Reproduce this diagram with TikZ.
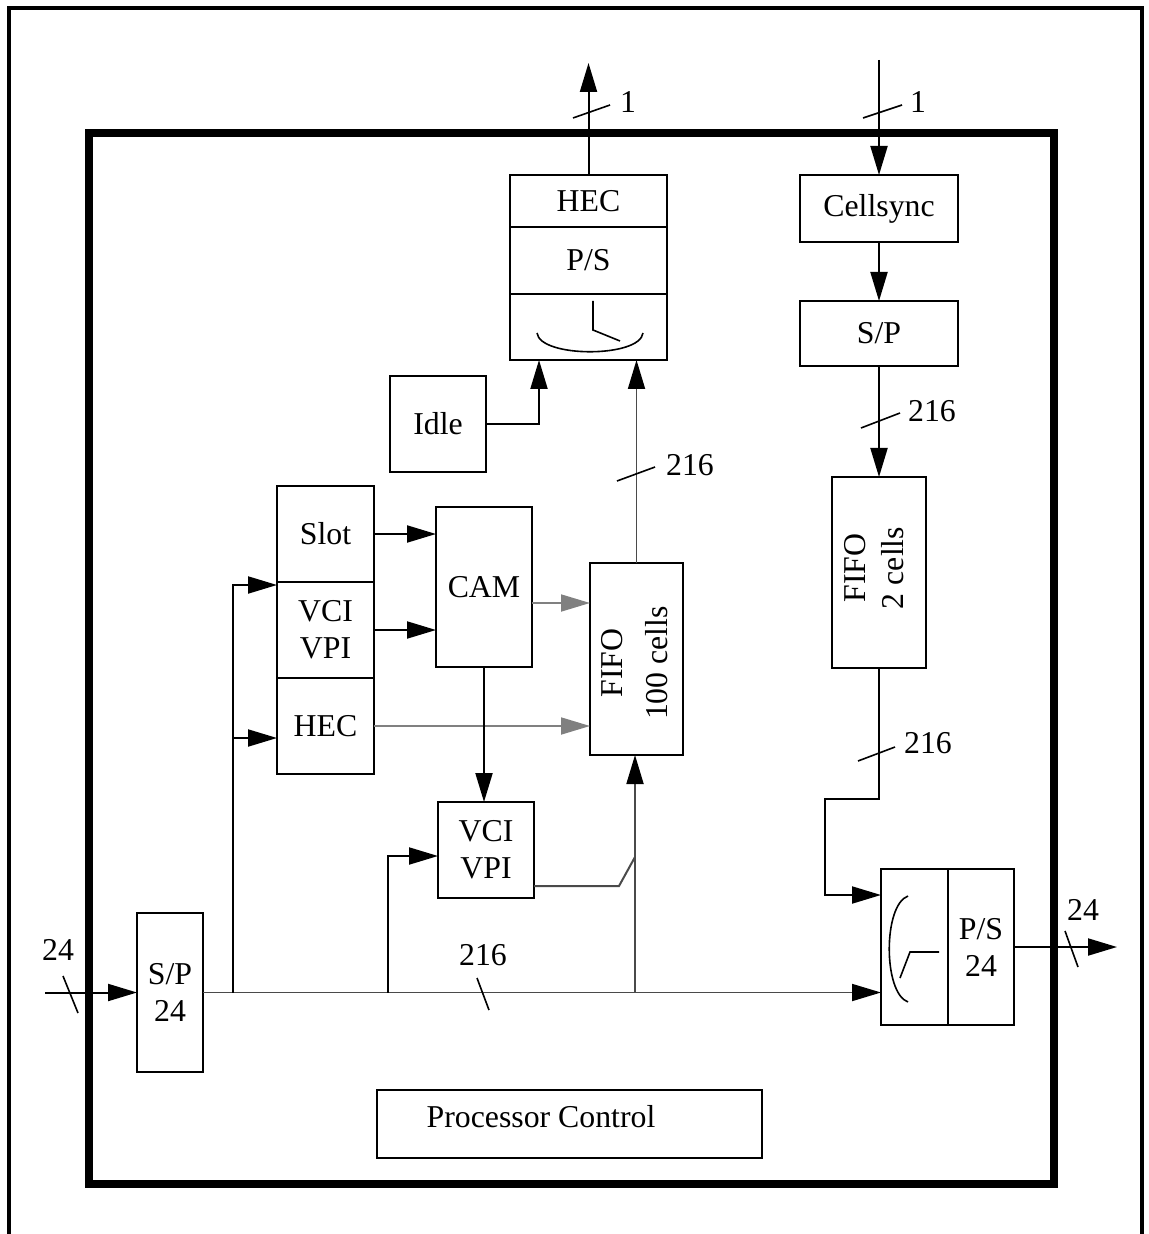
\documentclass[tikz,border=0pt]{standalone}
\usepackage{fontspec}
\setmainfont{Liberation Serif}
\usetikzlibrary{arrows.meta, calc}
\definecolor{wiregray}{HTML}{4A4A4A}
\definecolor{datagray}{HTML}{808080}
\tikzset{
  blk/.style={draw, line width=1.3pt, inner sep=2pt, outer sep=0pt, align=center,
              font=\fontsize{15.9}{18.5}\selectfont},
  sz/.style 2 args={minimum width=#1*0.5pt, minimum height=#2*0.5pt},
  txt/.style={inner sep=0pt, align=center, font=\fontsize{15.9}{18.5}\selectfont},
  flow/.style={-{Triangle[length=14.5pt, width=8.5pt]}, line width=1pt},
  dflow/.style={-{Triangle[length=14.5pt, width=8.5pt, color=black]}, line width=0.9pt, wiregray},
  gflow/.style={-{Triangle[length=14.5pt, width=8.5pt]}, line width=0.9pt, datagray},
  wire/.style={line width=1pt},
  tick/.style={line width=0.8pt},
  frame/.style={line width=1.7pt},
  chip/.style={line width=4.2pt},
}

\begin{document}
\begin{tikzpicture}[x=0.5pt, y=-0.5pt]
  \useasboundingbox (0,0) rectangle (1148,1234);
  \draw[frame] (9,1234) -- (9,8) -- (1142,8) -- (1142,1234);
  \draw[chip] (89,133) rectangle (1054,1184);

  % transmit stack
  \node[blk, sz={157}{52}] (hecT) at (588.5,201) {HEC};
  \node[blk, sz={157}{67}] (psT) at (588.5,260.5) {P/S};
  \node[blk, sz={157}{66}] (clkT) at (588.5,327) {};
  \draw[line width=0.8pt] (537,333) .. controls (540,358) and (640,358) .. (643,333);
  \draw[line width=0.8pt] (593,301) -- (593,330) -- (620,341);

  % receive side
  \node[blk, sz={158}{67}] (cellsync) at (879,208.5) {Cellsync};
  \node[blk, sz={158}{65}] (spT) at (879,333.5) {S/P};
  \node[blk, sz={94}{191}] (fifo2) at (879,572.5) {};
  \node[txt, rotate=90, font=\fontsize{15.9}{19}\selectfont] (fifo2t) at (874,568) {FIFO\\2 cells};

  \node[blk, sz={96}{96}] (idle) at (438,424) {Idle};
  \foreach \n/\y/\t in {slot/534/Slot, vci1/630/{VCI\\VPI}, hec1/726/HEC}{
    \node[blk, sz={97}{96}] (\n) at (325.5,\y) {\t};
  }
  \node[blk, sz={96}{160}] (cam) at (484,587) {CAM};
  \node[blk, sz={93}{192}] (fifo1) at (636.5,659) {};
  \node[txt, rotate=90, font=\fontsize{15.9}{22.5}\selectfont] (fifo1t) at (634.5,663) {FIFO\\100 cells};
  \node[blk, sz={96}{96}] (vci2) at (486,850) {VCI\\VPI};

  \node[blk, sz={66}{159}] (spin) at (170,992.5) {S/P\\24};
  \node[blk, sz={67}{156}] (mux) at (914.5,947) {};
  \node[blk, sz={66}{156}] (psout) at (981,947) {P/S\\24};
  \draw[line width=0.8pt] (908,896) .. controls (883,905) and (883,993) .. (908,1002);
  \draw[line width=0.8pt] (939,952) -- (910,952) -- (900,978);

  \node[blk, line width=1pt, sz={385}{68}] (proc) at (569.5,1124) {};
  \node[txt] (proct) at (541,1117) {Processor Control};

  % connectors
  \coordinate (inT) at (879,60);
  \coordinate (outT) at (588.5,63);
  \coordinate (inL) at (45,992.5);
  \coordinate (outR) at (1117,947);
  \coordinate (j1) at (825,799);
  \coordinate (b1) at (233,992.5);
  \coordinate (b2) at (388,992.5);
  \coordinate (b3) at (635,992.5);
  \coordinate (k1) at (619,886);
  \coordinate (k2) at (635,857);
  \coordinate (hecIn) at ([yshift=-6pt]hec1.west);

  \draw[flow] (hecT.north) -- (outT);
  \draw[flow] (inT) -- (cellsync);
  \draw[flow] (cellsync) -- (spT);
  \draw[flow] (spT) -- (fifo2);
  \draw[flow] (fifo2.south) |- (j1) |- ([yshift=-13pt]mux.north west);
  \draw[flow] (idle) -| ([xshift=14.5pt]clkT.south west);
  \draw[dflow] (fifo1.north) -- (fifo1.north |- clkT.south);

  \draw[flow] (inL) -- (spin);
  \draw[dflow] (spin.east) -- (spin.east -| mux.west);
  \draw[flow] (b1) |- ([yshift=-1.5pt]vci1.north west);
  \draw[flow] (hecIn -| b1) -- (hecIn);
  \draw[flow] (b2) |- ([yshift=-3pt]vci2.west);
  \draw[dflow] (b3) -- (b3 |- fifo1.south);
  \draw[wire, wiregray] ([yshift=-18pt]vci2.east) -- (k1) -- (k2);

  \draw[flow] (slot) -- (slot -| cam.west);
  \draw[flow] (vci1) -- (vci1 -| cam.west);
  \draw[gflow] ([yshift=-8pt]cam.east) -- ([yshift=-8pt]cam.east -| fifo1.west);
  \draw[gflow] (hec1) -- (hec1 -| fifo1.west);
  \draw[flow] (cam.south) -- (cam.south |- vci2.north);
  \draw[flow] (psout) -- (outR);

  % bus widths
  \foreach \ax/\ay/\bx/\by/\lx/\ly/\t [count=\i] in
    {573/118/610/105/628/102/1, 863/118/902/105/918/102/1,
     861/428/900/413/932/411/216, 617/481/655/467/690/465/216,
     858/761/895/747/928/743/216, 477/978/489/1010/483/955/216,
     63/976/78/1013/58/950/24, 1065/931/1078/967/1083/910/24}{
    \draw[tick] (\ax,\ay) -- (\bx,\by);
    \node[txt] (w\i) at (\lx,\ly) {\t};
  }
\end{tikzpicture}
\end{document}
